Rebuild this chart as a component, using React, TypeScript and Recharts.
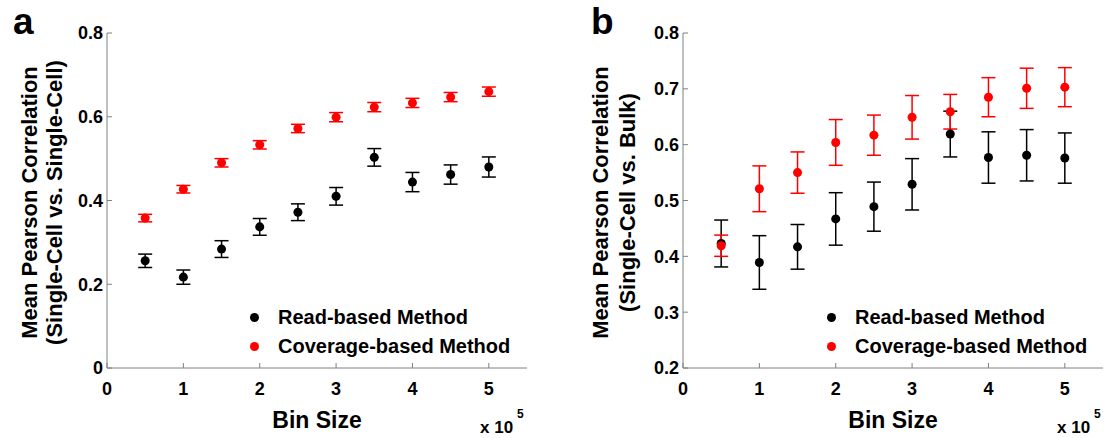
import { ScatterChart, Scatter, XAxis, YAxis, ErrorBar, Legend } from "recharts";

const binSizes = [0.5, 1, 1.5, 2, 2.5, 3, 3.5, 4, 4.5, 5];
const xTicks = [0, 1, 2, 3, 4, 5];

// a: single-cell vs single-cell
const readA = [0.256, 0.217, 0.284, 0.337, 0.372, 0.41, 0.503, 0.444, 0.462, 0.48];
const readAErr = [0.016, 0.017, 0.02, 0.02, 0.02, 0.021, 0.021, 0.023, 0.023, 0.024];
const covA = [0.358, 0.427, 0.49, 0.533, 0.572, 0.599, 0.623, 0.633, 0.647, 0.66];
const covAErr = [0.009, 0.009, 0.01, 0.01, 0.01, 0.011, 0.011, 0.011, 0.011, 0.011];
const yTicksA = [0, 0.2, 0.4, 0.6, 0.8];

// b: single-cell vs bulk
const readB = [0.423, 0.389, 0.417, 0.467, 0.489, 0.529, 0.619, 0.577, 0.581, 0.576];
const readBErr = [0.042, 0.048, 0.04, 0.047, 0.044, 0.046, 0.041, 0.046, 0.046, 0.045];
const covB = [0.419, 0.521, 0.55, 0.604, 0.617, 0.649, 0.659, 0.685, 0.701, 0.703];
const covBErr = [0.019, 0.041, 0.037, 0.041, 0.036, 0.039, 0.031, 0.035, 0.036, 0.035];
const yTicksB = [0.2, 0.3, 0.4, 0.5, 0.6, 0.7, 0.8];

const seriesNames = ["Read-based Method", "Coverage-based Method"];
const seriesColors = ["#000000", "#ff0000"];

const FONT = "'Liberation Sans', Arial, Helvetica, sans-serif";
const AXIS = "#808080";
const H = 438;
const PLOT_TOP = 33;
const PLOT_BOTTOM = 368;
const PLOT_W = 420;

const toPoints = (ys: number[], errs: number[]) => binSizes.map((x, i) => ({ x, y: ys[i], err: errs[i] }));
const fmtY = (v: number) => (v === 0 ? "0" : v.toFixed(1));

function LegendBox() {
  return (
    <div style={{ fontFamily: FONT, fontWeight: "bold", fontSize: 20, color: "#000" }}>
      {seriesNames.map((n, i) => (
        <div key={n} style={{ display: "flex", alignItems: "center", height: 29, whiteSpace: "nowrap" }}>
          <span style={{ width: 9, height: 9, borderRadius: "50%", background: seriesColors[i], display: "inline-block" }} />
          <span style={{ marginLeft: 19.5 }}>{n}</span>
        </div>
      ))}
    </div>
  );
}

type PanelProps = {
  letter: string;
  letterX: number;
  subtitle: string;
  titleX: [number, number];
  read: number[];
  readErr: number[];
  cov: number[];
  covErr: number[];
  yDomain: [number, number];
  yTicks: number[];
  left: number;
  width: number;
  plotLeft: number;
  legendLeft: number;
  expX: number;
};

function Panel(p: PanelProps) {
  const cy = (PLOT_TOP + PLOT_BOTTOM) / 2 + 2;
  const cx = p.plotLeft + PLOT_W / 2;
  const yTitle = (
    <g fontFamily={FONT} fontWeight="bold" fill="#000">
      <text x={p.letterX} y={34} fontSize={37}>{p.letter}</text>
      <text x={p.titleX[0]} y={cy} fontSize={22} textAnchor="middle" transform={`rotate(-90 ${p.titleX[0]} ${cy})`}>
        Mean Pearson Correlation
      </text>
      <text x={p.titleX[1]} y={cy} fontSize={22} textAnchor="middle" transform={`rotate(-90 ${p.titleX[1]} ${cy})`}>
        {p.subtitle}
      </text>
    </g>
  );
  const xTitle = (
    <g fontFamily={FONT} fontWeight="bold" fill="#000">
      <text x={cx} y={428} fontSize={23} textAnchor="middle">Bin Size</text>
      <text x={p.expX} y={433} fontSize={17}>x 10</text>
      <text x={p.expX + 37} y={418} fontSize={12}>5</text>
    </g>
  );
  const tickStyle = { fontFamily: FONT, fontWeight: "bold" as const, fontSize: 18, fill: "#000" };

  return (
    <div style={{ position: "absolute", left: p.left, top: 0 }}>
      <ScatterChart
        width={p.width}
        height={H}
        margin={{ top: PLOT_TOP, right: p.width - p.plotLeft - PLOT_W, bottom: H - PLOT_BOTTOM - 30, left: p.plotLeft - 60 }}
      >
        <XAxis
          type="number"
          dataKey="x"
          domain={[0, 5.5]}
          ticks={xTicks}
          height={30}
          tickSize={-5}
          tickMargin={19}
          tick={tickStyle}
          axisLine={{ stroke: AXIS }}
          tickLine={{ stroke: AXIS }}
          label={xTitle}
        />
        <XAxis
          xAxisId="top"
          orientation="top"
          type="number"
          domain={[0, 5.5]}
          ticks={xTicks}
          height={0}
          tickSize={-5}
          tick={() => <g />}
          axisLine={{ stroke: AXIS }}
          tickLine={{ stroke: AXIS }}
        />
        <YAxis
          type="number"
          dataKey="y"
          domain={p.yDomain}
          ticks={p.yTicks}
          width={60}
          tickSize={-5}
          tickMargin={9}
          tickFormatter={fmtY}
          tick={tickStyle}
          axisLine={{ stroke: AXIS }}
          tickLine={{ stroke: AXIS }}
          label={yTitle}
        />
        <YAxis
          yAxisId="right"
          orientation="right"
          type="number"
          domain={p.yDomain}
          ticks={p.yTicks}
          width={0}
          tickSize={-5}
          tick={() => <g />}
          axisLine={{ stroke: AXIS }}
          tickLine={{ stroke: AXIS }}
        />
        <Legend
          layout="vertical"
          align="center"
          verticalAlign="middle"
          wrapperStyle={{ left: p.legendLeft, top: 302.5, width: "auto" }}
          content={() => <LegendBox />}
        />
        <Scatter name={seriesNames[0]} data={toPoints(p.read, p.readErr)} fill={seriesColors[0]} isAnimationActive={false}>
          <ErrorBar dataKey="err" direction="y" width={7} stroke={seriesColors[0]} strokeWidth={1.5} />
        </Scatter>
        <Scatter name={seriesNames[1]} data={toPoints(p.cov, p.covErr)} fill={seriesColors[1]} isAnimationActive={false}>
          <ErrorBar dataKey="err" direction="y" width={7} stroke={seriesColors[1]} strokeWidth={1.5} />
        </Scatter>
      </ScatterChart>
    </div>
  );
}

export default function App() {
  return (
    <div style={{ position: "absolute", left: 0, top: 0, width: 1105, height: H, background: "#fff" }}>
      <Panel
        letter="a"
        letterX={13}
        subtitle="(Single-Cell vs. Single-Cell)"
        titleX={[37, 62]}
        read={readA}
        readErr={readAErr}
        cov={covA}
        covErr={covAErr}
        yDomain={[0, 0.8]}
        yTicks={yTicksA}
        left={0}
        width={560}
        plotLeft={107}
        legendLeft={249.5}
        expX={480}
      />
      <Panel
        letter="b"
        letterX={31}
        subtitle="(Single-Cell vs. Bulk)"
        titleX={[48, 75]}
        read={readB}
        readErr={readBErr}
        cov={covB}
        covErr={covBErr}
        yDomain={[0.2, 0.8]}
        yTicks={yTicksB}
        left={560}
        width={545}
        plotLeft={123}
        legendLeft={266.5}
        expX={497}
      />
    </div>
  );
}
